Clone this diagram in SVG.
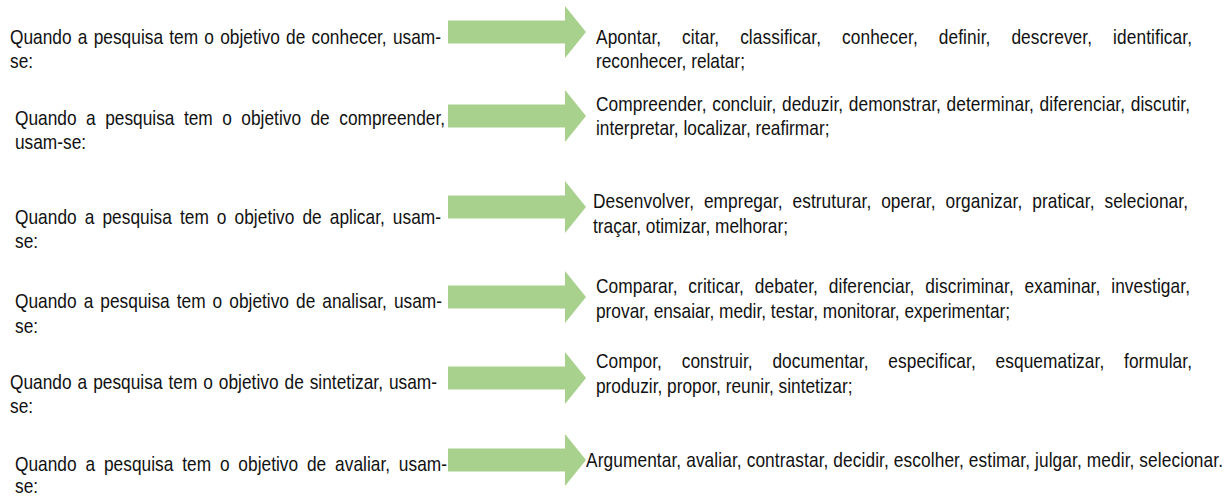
<svg xmlns="http://www.w3.org/2000/svg" width="1228" height="497" viewBox="0 0 1228 497">
<style>
text{font-family:"Liberation Sans",Arial,sans-serif;font-size:17.3px;fill:#111111}
.arrow{fill:#a9d18e;stroke:none}
</style>
<defs>
<path id="arr" d="M0,-11.5 H117 V-26 L138,0 L117,26 V11.5 H0 Z"/>
</defs>
<rect width="1228" height="497" fill="#ffffff"/>
<g id="connectors">
<use href="#arr" class="arrow" x="448" y="32"/>
<use href="#arr" class="arrow" x="448" y="116"/>
<use href="#arr" class="arrow" x="448" y="207"/>
<use href="#arr" class="arrow" x="448" y="297"/>
<use href="#arr" class="arrow" x="448" y="378"/>
<use href="#arr" class="arrow" x="448" y="460"/>
</g>
<g id="q1">
<text transform="translate(10,44) scale(1,1.22)" word-spacing="1.4" textLength="431" lengthAdjust="spacing">Quando a pesquisa tem o objetivo de conhecer, usam-</text>
<text transform="translate(10,68) scale(1,1.22)">se:</text>
</g>
<g id="v1">
<text transform="translate(596,44) scale(1,1.22)" word-spacing="16" textLength="596" lengthAdjust="spacing">Apontar, citar, classificar, conhecer, definir, descrever, identificar,</text>
<text transform="translate(596,68) scale(1,1.22)">reconhecer, relatar;</text>
</g>
<g id="q2">
<text transform="translate(15,125) scale(1,1.22)" word-spacing="4.7" textLength="430" lengthAdjust="spacing">Quando a pesquisa tem o objetivo de compreender,</text>
<text transform="translate(15,149) scale(1,1.22)">usam-se:</text>
</g>
<g id="v2">
<text transform="translate(596,111) scale(1,1.22)" word-spacing="0.7" textLength="594" lengthAdjust="spacing">Compreender, concluir, deduzir, demonstrar, determinar, diferenciar, discutir,</text>
<text transform="translate(596,135) scale(1,1.22)">interpretar, localizar, reafirmar;</text>
</g>
<g id="q3">
<text transform="translate(15,224) scale(1,1.22)" word-spacing="3.2" textLength="426" lengthAdjust="spacing">Quando a pesquisa tem o objetivo de aplicar, usam-</text>
<text transform="translate(15,248) scale(1,1.22)">se:</text>
</g>
<g id="v3">
<text transform="translate(593,208) scale(1,1.22)" word-spacing="5" textLength="595" lengthAdjust="spacing">Desenvolver, empregar, estruturar, operar, organizar, praticar, selecionar,</text>
<text transform="translate(593,233) scale(1,1.22)">traçar, otimizar, melhorar;</text>
</g>
<g id="q4">
<text transform="translate(15,308) scale(1,1.22)" word-spacing="2.2" textLength="427" lengthAdjust="spacing">Quando a pesquisa tem o objetivo de analisar, usam-</text>
<text transform="translate(15,333) scale(1,1.22)">se:</text>
</g>
<g id="v4">
<text transform="translate(596,293) scale(1,1.22)" word-spacing="5.9" textLength="594" lengthAdjust="spacing">Comparar, criticar, debater, diferenciar, discriminar, examinar, investigar,</text>
<text transform="translate(596,318) scale(1,1.22)">provar, ensaiar, medir, testar, monitorar, experimentar;</text>
</g>
<g id="q5">
<text transform="translate(10,389) scale(1,1.22)" word-spacing="1.1" textLength="427" lengthAdjust="spacing">Quando a pesquisa tem o objetivo de sintetizar, usam-</text>
<text transform="translate(10,413) scale(1,1.22)">se:</text>
</g>
<g id="v5">
<text transform="translate(596,368) scale(1,1.22)" word-spacing="14.8" textLength="596" lengthAdjust="spacing">Compor, construir, documentar, especificar, esquematizar, formular,</text>
<text transform="translate(596,393) scale(1,1.22)">produzir, propor, reunir, sintetizar;</text>
</g>
<g id="q6">
<text transform="translate(15,471) scale(1,1.22)" word-spacing="4" textLength="432" lengthAdjust="spacing">Quando a pesquisa tem o objetivo de avaliar, usam-</text>
<text transform="translate(15,493) scale(1,1.22)">se:</text>
</g>
<g id="v6">
<text transform="translate(586,467) scale(1,1.22)" textLength="637" lengthAdjust="spacing">Argumentar, avaliar, contrastar, decidir, escolher, estimar, julgar, medir, selecionar.</text>
</g>
</svg>
